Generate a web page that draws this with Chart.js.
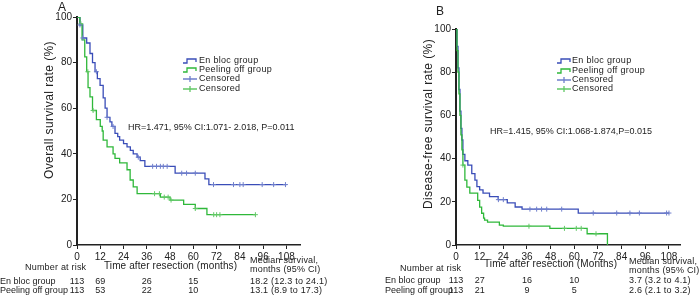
<!DOCTYPE html>
<html>
<head>
<meta charset="utf-8">
<script src="https://cdn.jsdelivr.net/npm/chart.js@4"></script>
<style>
  html, body { margin: 0; padding: 0; background: #fff; }
  .panel { position: absolute; top: 0; width: 350px; height: 297px; }
</style>
</head>
<body>
<div class="panel" style="left:0"><canvas id="osChart" width="350" height="297"></canvas></div>
<div class="panel" style="left:350px"><canvas id="dfsChart" width="350" height="297"></canvas></div>
<script>
// ---- data ----
const xTicks = [0, 12, 24, 36, 48, 60, 72, 84, 96, 108];
const yTicks = [0, 20, 40, 60, 80, 100];
const groups = ["En bloc group", "Peeling off group"];
const riskTimes = [0, 12, 36, 60];

// A: overall survival (months, %)
const osEnBlocT = [0, 1.5, 3, 5, 6.7, 8, 9.3, 10.5, 11.9, 13.5, 14.5, 15.5, 17, 18, 19.6, 21, 22, 24, 25.8, 27.5, 29, 31, 32.6, 35, 50.6, 66, 68, 108];
const osEnBlocS = [100, 96.5, 90.8, 88.6, 84, 80, 76, 73, 70, 64.5, 60, 56, 54, 52, 49, 47.5, 46, 44.5, 43, 41.5, 40, 38.5, 37, 34.5, 31.5, 29, 26.5, 26.5];
const osPeelT = [0, 1.5, 2.6, 4, 5, 5.7, 6.7, 8, 10, 12, 13, 13.5, 15.5, 18.6, 19.6, 22, 25.8, 27.4, 29, 31, 43, 48, 55, 61, 67, 92];
const osPeelS = [100, 97, 90, 82.5, 76, 69, 65, 59, 55, 52, 50, 46, 43, 40, 38, 36, 33, 28.5, 25.5, 22.5, 21, 19.7, 17.8, 16, 13.3, 13.3];
const osEnBlocCens = [1.5, 3, 10, 15.5, 18.6, 31.6, 39, 41, 43, 44.5, 46.5, 54, 56.5, 61, 70.4, 80.7, 84, 85.7, 95.5, 101.4, 107.5];
const osPeelCens = [2, 5.6, 8.3, 40, 42.5, 45, 47, 48.5, 61, 70.5, 72, 73.7, 92];
const osRiskEnBloc = [113, 69, 26, 15];
const osRiskPeel = [113, 53, 22, 10];
const osMedian = ["18.2 (12.3 to 24.1)", "13.1 (8.9 to 17.3)"];

// B: disease-free survival
const dfsEnBlocT = [0, 0.5, 1, 1.5, 2, 2.5, 3, 3.5, 4.5, 6, 8, 9.6, 10.6, 12, 13.7, 17, 21.4, 26, 30, 33.5, 62, 108];
const dfsEnBlocS = [100, 92, 82, 72, 62, 54, 48.6, 42, 39, 37, 33, 30, 27, 25.5, 24, 22.4, 21, 19.5, 17.6, 16.6, 14.8, 14.8];
const dfsPeelT = [0, 0.5, 1, 1.5, 2, 2.5, 3, 3.5, 4.5, 5.5, 7, 11, 12, 13, 14, 14.5, 16, 22, 24, 47.6, 66.5, 76.8];
const dfsPeelS = [100, 90, 80, 70, 60, 51, 44, 37, 30, 26.8, 24, 20.7, 17.5, 14.7, 12.4, 11.5, 10.6, 9.2, 8.7, 7.7, 5.2, 0];
const dfsEnBlocCens = [21.5, 24, 37.5, 40.9, 43.4, 46, 53.6, 69.6, 81.5, 88.2, 93, 106.8, 108];
const dfsPeelCens = [3.5, 37, 55, 61, 63.5, 71];
const dfsRiskEnBloc = [113, 27, 16, 10];
const dfsRiskPeel = [113, 21, 9, 5];
const dfsMedian = ["3.7 (3.2 to 4.1)", "2.6 (2.1 to 3.2)"];

const BLUE = "#3a4db8", GREEN = "#2fb83a";
const BLUE_C = "#6f7fcc", GREEN_C = "#62c866";
const FONT = "'Liberation Sans', Arial, sans-serif";

function curve(T, S) { return T.map((t, i) => ({ x: t, y: S[i] })); }
// censor marks sit on the step curve
function onCurve(T, S, times) {
  return times.map(t => {
    let v = S[0];
    for (let i = 0; i < T.length; i++) if (T[i] <= t) v = S[i];
    return { x: t, y: v };
  });
}

// --- extra text / legend / risk table ---
const extras = {
  id: "extras",
  afterDraw(chart, args, o) {
    const ctx = chart.ctx, xs = chart.scales.x;
    ctx.save();
    ctx.fillStyle = "#222";
    ctx.textBaseline = "middle";
    const txt = (s, x, y, size, align, sp) => {
      ctx.font = size + "px " + FONT;
      ctx.letterSpacing = (sp || 0) + "px";
      ctx.textAlign = align || "left";
      ctx.fillText(s, x, y);
    };
    txt(o.letter, o.letterX, o.letterY, 12);
    ctx.save();
    ctx.translate(o.yTitleX, o.yTitleY);
    ctx.rotate(-Math.PI / 2);
    txt(o.yTitle, 0, 0, 12, "center", 0.4);
    ctx.restore();
    txt(o.xTitle, o.xTitleX, o.xTitleY, 10, "left", 0.1);
    txt(o.hr, o.hrX, o.hrY, 9);

    // legend
    const lg = o.legend;
    const rows = [
      { t: groups[0], c: BLUE, step: true },
      { t: groups[1], c: GREEN, step: true },
      { t: "Censored", c: BLUE_C },
      { t: "Censored", c: GREEN_C }
    ];
    rows.forEach((r, i) => {
      const y = lg.ys[i], x0 = lg.x;
      ctx.strokeStyle = r.c;
      ctx.lineWidth = 1.3;
      ctx.beginPath();
      if (r.step) {
        ctx.moveTo(x0, y + 2); ctx.lineTo(x0 + 4, y + 2); ctx.lineTo(x0 + 4, y - 2);
        ctx.lineTo(x0 + 13, y - 2); ctx.lineTo(x0 + 13, y + 1);
      } else {
        ctx.moveTo(x0, y); ctx.lineTo(x0 + 14, y);
        ctx.moveTo(x0 + 7, y - 3); ctx.lineTo(x0 + 7, y + 3);
      }
      ctx.stroke();
      txt(r.t, lg.textX, y, 9, "left", 0.3);
    });

    // number at risk table
    txt("Number at risk", o.riskTitleX, o.riskTitleY, 9, "left", 0.2);
    txt("Median survival,", o.medX, o.medY1, 9, "left", 0.2);
    txt("months (95% CI)", o.medX, o.medY2, 9, "left", 0.2);
    [o.riskA, o.riskB].forEach((vals, r) => {
      const y = o.rowYs[r];
      txt(groups[r], o.rowLabelX, y, 9);
      vals.forEach((v, i) => txt(String(v), xs.getPixelForValue(riskTimes[i]), y, 9, "center"));
      txt(o.median[r], o.medX, y, 9, "left", 0.2);
    });
    ctx.restore();
  }
};

function makeChart(id, d) {
  return new Chart(document.getElementById(id), {
    type: "line",
    data: {
      datasets: [
        { data: curve(d.t1, d.s1), borderColor: BLUE, borderWidth: 1.3, stepped: "before", pointRadius: 0, order: 2 },
        { data: curve(d.t2, d.s2), borderColor: GREEN, borderWidth: 1.3, stepped: "before", pointRadius: 0, order: 1 },
        { data: onCurve(d.t1, d.s1, d.c1), showLine: false, pointStyle: "cross", pointRadius: 2.5, borderColor: BLUE_C, borderWidth: 1 },
        { data: onCurve(d.t2, d.s2, d.c2), showLine: false, pointStyle: "cross", pointRadius: 2.5, borderColor: GREEN_C, borderWidth: 1 }
      ]
    },
    options: {
      responsive: false,
      animation: false,
      layout: { padding: d.pad },
      plugins: { legend: { display: false }, tooltip: { enabled: false }, extras: d.extras },
      scales: {
        x: {
          type: "linear", min: 0, max: d.xMax,
          afterBuildTicks: s => { s.ticks = xTicks.map(v => ({ value: v })); },
          afterFit: s => { s.height = 52; },
          grid: { drawOnChartArea: false, drawTicks: true, tickLength: 4, tickColor: "#222" },
          border: { color: "#222", width: 1.5 },
          ticks: { color: "#222", padding: 2, maxRotation: 0, autoSkip: false, font: { size: 10, family: FONT } }
        },
        y: {
          min: 0, max: 100,
          afterBuildTicks: s => { s.ticks = yTicks.map(v => ({ value: v })); },
          afterFit: s => { s.width = d.yWidth; },
          grid: { drawOnChartArea: false, drawTicks: true, tickLength: 4, tickColor: "#222" },
          border: { color: "#222", width: 2 },
          ticks: { color: "#222", padding: 1, font: { size: 10, family: FONT } }
        }
      }
    },
    plugins: [extras]
  });
}

makeChart("osChart", {
  t1: osEnBlocT, s1: osEnBlocS, t2: osPeelT, s2: osPeelS, c1: osEnBlocCens, c2: osPeelCens,
  xMax: 115, yWidth: 77, pad: { left: 0, right: 50, top: 17, bottom: 0 },
  extras: {
    letter: "A", letterX: 58, letterY: 8,
    yTitle: "Overall survival rate (%)", yTitleX: 50, yTitleY: 110,
    xTitle: "Time after resection (months)", xTitleX: 104, xTitleY: 266,
    hr: "HR=1.471, 95% CI:1.071- 2.018, P=0.011", hrX: 128, hrY: 128,
    legend: { x: 183, textX: 199, ys: [61, 70, 79, 89] },
    riskTitleX: 25, riskTitleY: 268, medX: 250, medY1: 261, medY2: 270,
    rowLabelX: 0, rowYs: [282, 291], riskA: osRiskEnBloc, riskB: osRiskPeel, median: osMedian
  }
});

makeChart("dfsChart", {
  t1: dfsEnBlocT, s1: dfsEnBlocS, t2: dfsPeelT, s2: dfsPeelS, c1: dfsEnBlocCens, c2: dfsPeelCens,
  xMax: 113.6, yWidth: 106, pad: { left: 0, right: 20, top: 29, bottom: 0 },
  extras: {
    letter: "B", letterX: 86, letterY: 12,
    yTitle: "Disease-free survival rate (%)", yTitleX: 79, yTitleY: 124,
    xTitle: "Time after resection (Months)", xTitleX: 134, xTitleY: 264,
    hr: "HR=1.415, 95% CI:1.068-1.874,P=0.015", hrX: 140, hrY: 132,
    legend: { x: 207, textX: 222, ys: [61, 71, 80, 89] },
    riskTitleX: 50, riskTitleY: 269, medX: 279, medY1: 262, medY2: 271,
    rowLabelX: 35, rowYs: [281, 291], riskA: dfsRiskEnBloc, riskB: dfsRiskPeel, median: dfsMedian
  }
});
</script>
</body>
</html>
